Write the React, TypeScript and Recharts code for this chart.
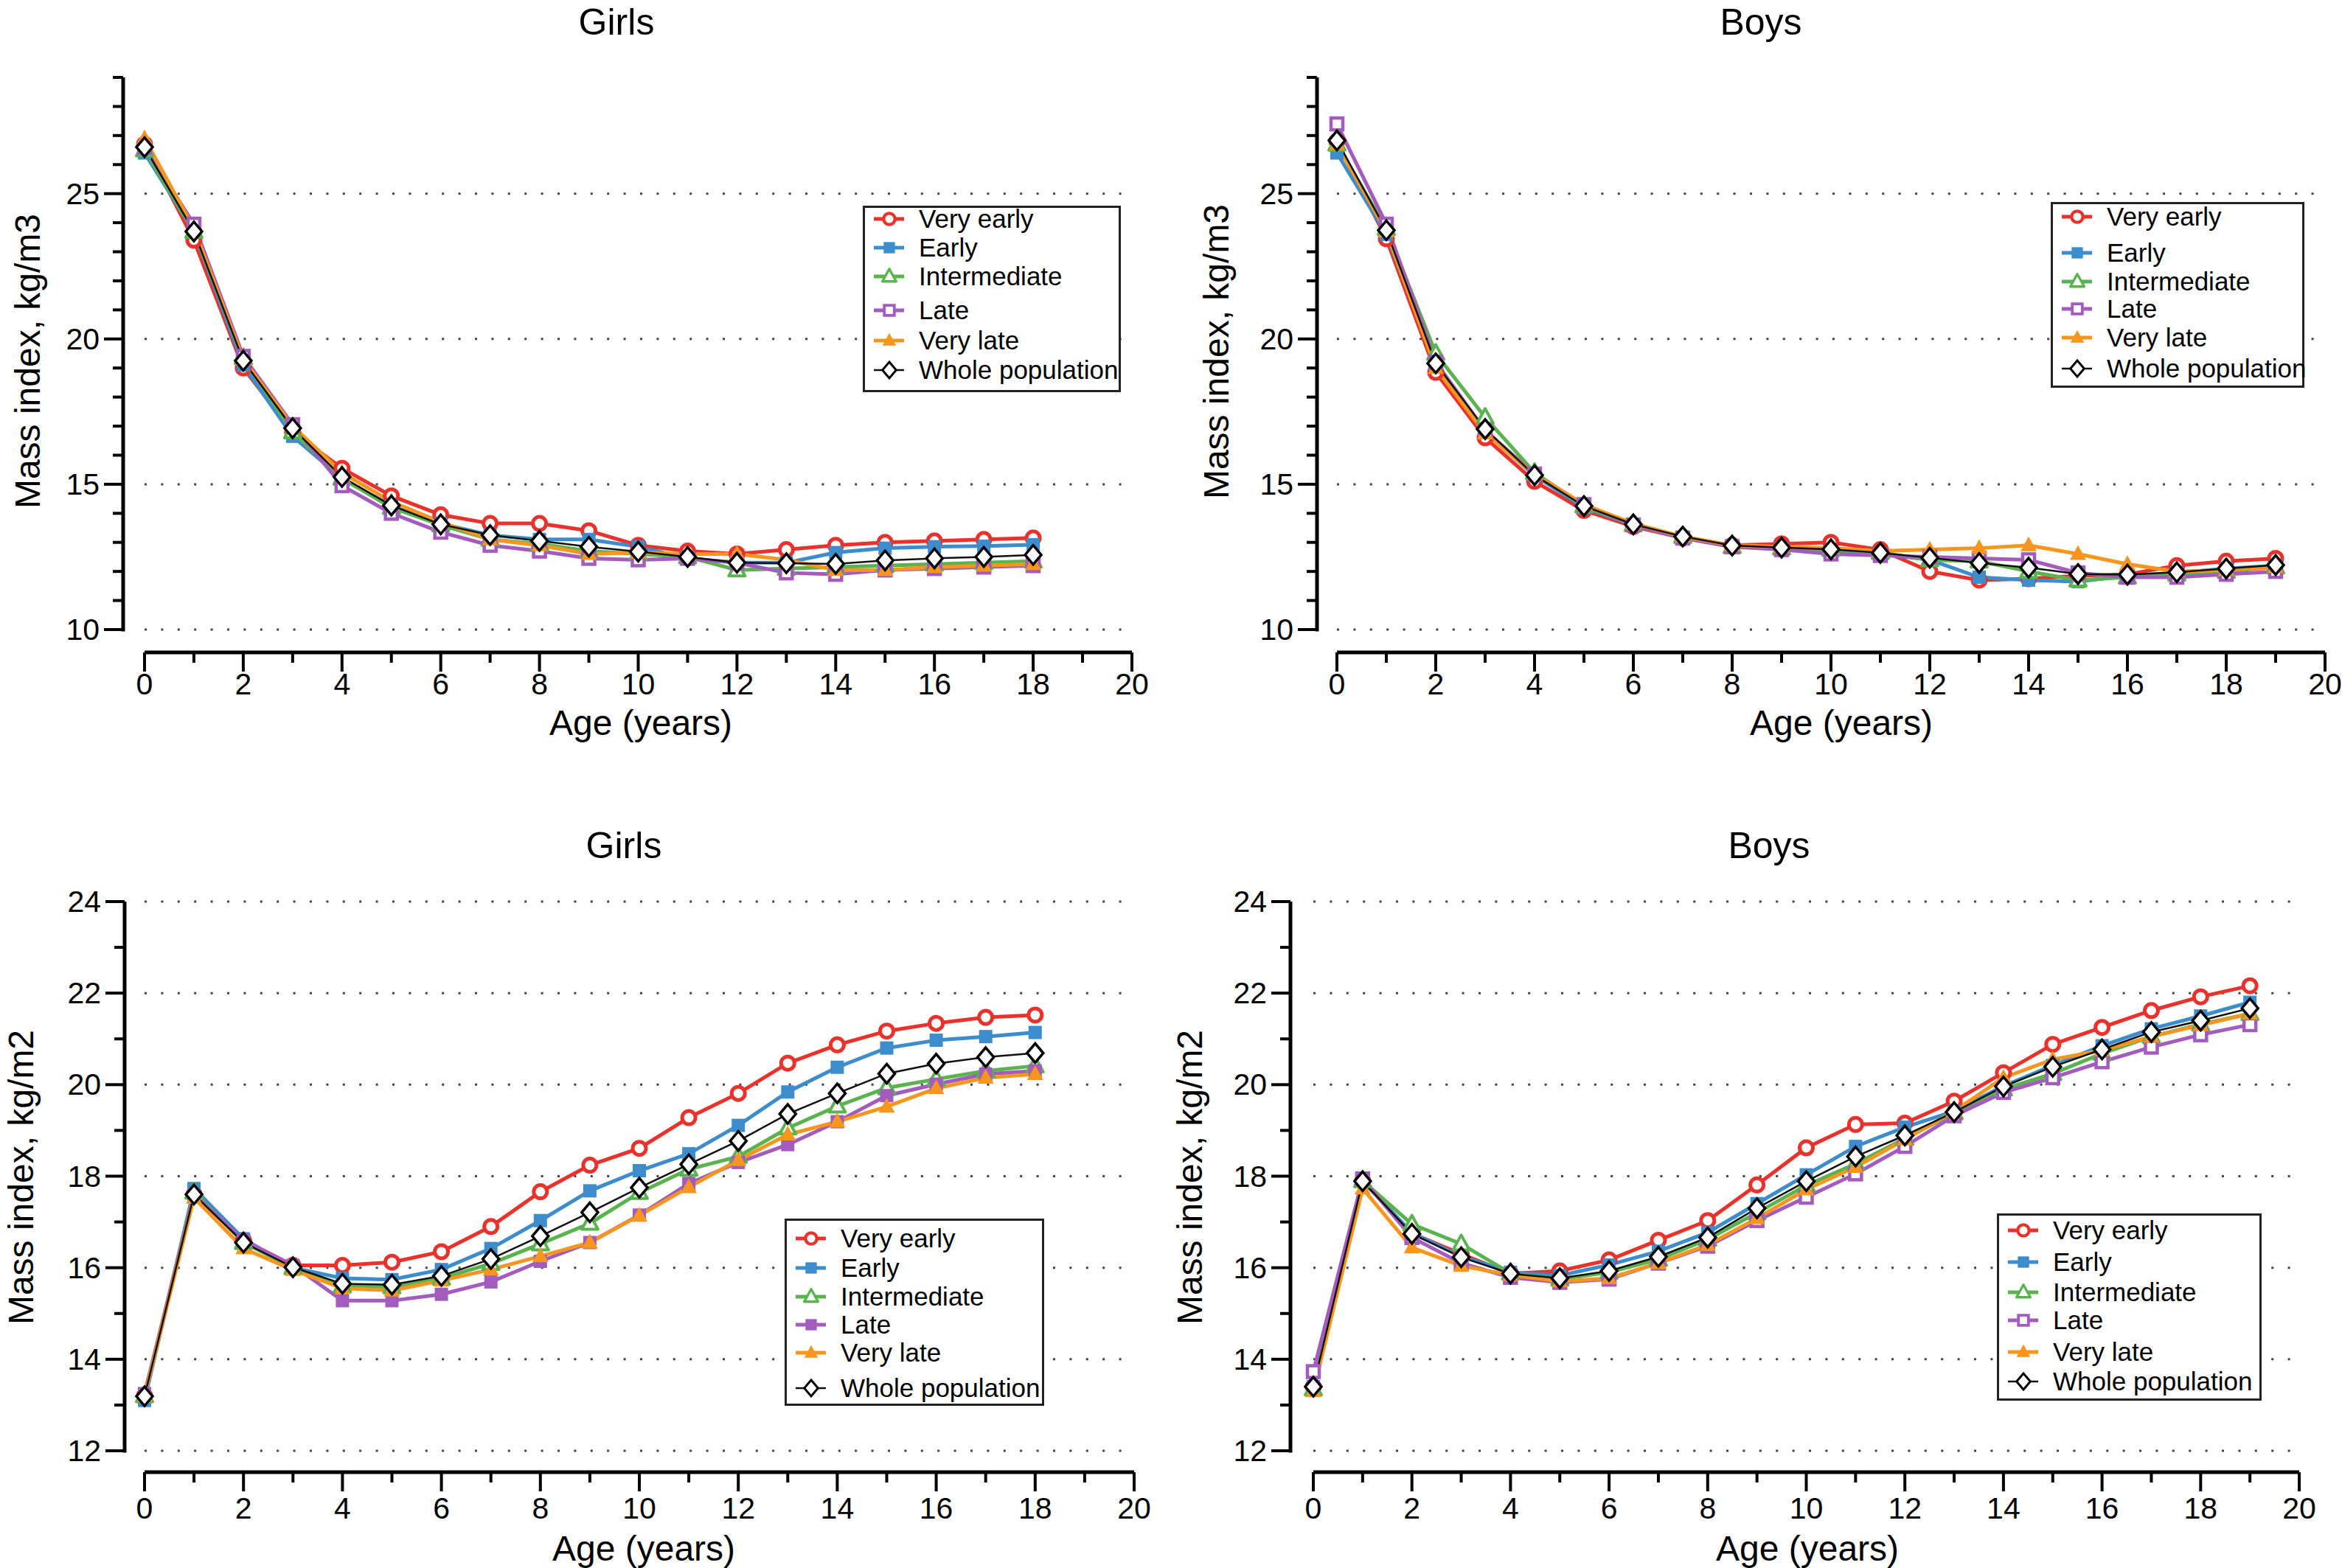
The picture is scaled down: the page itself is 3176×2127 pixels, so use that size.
import React from "react";
import { LineChart, Line, XAxis, YAxis, CartesianGrid, Legend } from "recharts";

const FONT = "'Liberation Sans', Arial, Helvetica, sans-serif";

// ages
const agesGirls = [0, 1, 2, 3, 4, 5, 6, 7, 8, 9, 10, 11, 12, 13, 14, 15, 16, 17, 18];
const agesBoys = [0, 1, 2, 3, 4, 5, 6, 7, 8, 9, 10, 11, 12, 13, 14, 15, 16, 17, 18, 19];

// ticks
const xTicks = [0, 1, 2, 3, 4, 5, 6, 7, 8, 9, 10, 11, 12, 13, 14, 15, 16, 17, 18, 19, 20];
const yTicksM3 = [10, 11, 12, 13, 14, 15, 16, 17, 18, 19, 20, 21, 22, 23, 24, 25, 26, 27, 28, 29];
const yLabelsM3 = [10, 15, 20, 25];
const yTicksM2 = [12, 13, 14, 15, 16, 17, 18, 19, 20, 21, 22, 23, 24];
const yLabelsM2 = [12, 14, 16, 18, 20, 22, 24];

// girls, kg/m3
const girlsM3VeryEarly = [26.7, 23.4, 19.0, 16.8, 15.55, 14.6, 13.95, 13.65, 13.65, 13.4, 12.9, 12.7, 12.6, 12.75, 12.9, 13.0, 13.05, 13.1, 13.15];
const girlsM3Early = [26.4, 23.7, 19.1, 16.65, 15.2, 14.25, 13.65, 13.25, 13.1, 13.1, 12.85, 12.45, 12.3, 12.3, 12.65, 12.8, 12.85, 12.87, 12.92];
const girlsM3Intermediate = [26.5, 23.7, 19.35, 16.8, 15.2, 14.2, 13.6, 13.1, 12.95, 12.7, 12.6, 12.5, 12.05, 12.1, 12.15, 12.2, 12.25, 12.3, 12.35];
const girlsM3Late = [26.6, 23.95, 19.4, 17.05, 14.95, 14.0, 13.35, 12.9, 12.7, 12.45, 12.4, 12.45, 12.3, 11.95, 11.9, 12.05, 12.1, 12.15, 12.2];
const girlsM3VeryLate = [26.9, 23.8, 19.3, 17.0, 15.4, 14.4, 13.7, 13.1, 12.9, 12.6, 12.65, 12.6, 12.6, 12.4, 12.05, 12.05, 12.15, 12.2, 12.25];
const girlsM3Whole = [26.6, 23.7, 19.25, 16.93, 15.25, 14.27, 13.62, 13.25, 13.05, 12.85, 12.68, 12.5, 12.3, 12.28, 12.26, 12.38, 12.45, 12.5, 12.57];

// boys, kg/m3
const boysM3VeryEarly = [26.8, 23.45, 18.85, 16.6, 15.1, 14.1, 13.55, 13.15, 12.9, 12.95, 13.0, 12.75, 12.0, 11.7, 11.75, 11.85, 11.9, 12.2, 12.35, 12.45];
const boysM3Early = [26.4, 23.6, 19.1, 16.8, 15.3, 14.2, 13.6, 13.15, 12.85, 12.8, 12.7, 12.6, 12.4, 11.8, 11.7, 11.65, 11.85, 11.95, 12.1, 12.2];
const boysM3Intermediate = [26.7, 23.8, 19.5, 17.3, 15.4, 14.25, 13.6, 13.2, 12.85, 12.8, 12.75, 12.65, 12.4, 12.35, 12.0, 11.7, 11.8, 11.9, 12.0, 12.15];
const boysM3Late = [27.4, 23.95, 19.2, 16.85, 15.35, 14.3, 13.6, 13.15, 12.85, 12.75, 12.6, 12.55, 12.5, 12.45, 12.4, 11.95, 11.8, 11.8, 11.9, 12.0];
const boysM3VeryLate = [26.7, 23.7, 19.0, 16.75, 15.35, 14.3, 13.65, 13.2, 12.9, 12.85, 12.8, 12.7, 12.75, 12.8, 12.9, 12.6, 12.25, 12.0, 12.05, 12.15];
const boysM3Whole = [26.83, 23.74, 19.16, 16.9, 15.31, 14.25, 13.62, 13.2, 12.89, 12.82, 12.76, 12.64, 12.47, 12.29, 12.13, 11.91, 11.89, 11.97, 12.1, 12.22];

// girls, kg/m2
const girlsM2VeryEarly = [13.2, 17.6, 16.6, 16.05, 16.05, 16.12, 16.35, 16.9, 17.66, 18.24, 18.61, 19.28, 19.81, 20.47, 20.87, 21.17, 21.34, 21.47, 21.52];
const girlsM2Early = [13.1, 17.73, 16.63, 16.0, 15.77, 15.74, 15.96, 16.42, 17.03, 17.68, 18.12, 18.49, 19.11, 19.84, 20.38, 20.8, 20.97, 21.05, 21.14];
const girlsM2Intermediate = [13.2, 17.65, 16.55, 16.0, 15.6, 15.58, 15.77, 16.09, 16.52, 16.97, 17.64, 18.15, 18.43, 19.05, 19.53, 19.93, 20.12, 20.3, 20.41];
const girlsM2Late = [13.25, 17.6, 16.6, 16.05, 15.28, 15.28, 15.42, 15.69, 16.14, 16.55, 17.15, 17.84, 18.3, 18.69, 19.19, 19.76, 20.01, 20.23, 20.3];
const girlsM2VeryLate = [13.2, 17.53, 16.42, 15.95, 15.55, 15.5, 15.72, 15.96, 16.25, 16.55, 17.14, 17.76, 18.35, 18.91, 19.19, 19.52, 19.92, 20.15, 20.23];
const girlsM2Whole = [13.19, 17.6, 16.55, 16.01, 15.65, 15.63, 15.82, 16.19, 16.69, 17.21, 17.75, 18.26, 18.77, 19.36, 19.81, 20.24, 20.46, 20.6, 20.69];

// boys, kg/m2
const boysM2VeryEarly = [13.4, 17.9, 16.75, 16.3, 15.87, 15.93, 16.17, 16.6, 17.03, 17.81, 18.62, 19.13, 19.16, 19.64, 20.26, 20.88, 21.25, 21.62, 21.92, 22.16];
const boysM2Early = [13.4, 17.9, 16.76, 16.25, 15.9, 15.83, 16.06, 16.36, 16.77, 17.4, 18.03, 18.65, 19.07, 19.42, 19.97, 20.42, 20.85, 21.22, 21.5, 21.8];
const boysM2Intermediate = [13.35, 17.9, 16.95, 16.52, 15.88, 15.75, 15.9, 16.18, 16.62, 17.2, 17.8, 18.27, 18.82, 19.38, 19.9, 20.24, 20.68, 21.05, 21.32, 21.55];
const boysM2Late = [13.73, 17.94, 16.66, 16.1, 15.79, 15.68, 15.75, 16.1, 16.47, 17.03, 17.54, 18.05, 18.65, 19.32, 19.83, 20.15, 20.5, 20.82, 21.09, 21.31];
const boysM2VeryLate = [13.3, 17.73, 16.44, 16.04, 15.84, 15.7, 15.77, 16.1, 16.5, 17.08, 17.71, 18.2, 18.8, 19.42, 20.15, 20.55, 20.75, 21.05, 21.3, 21.55];
const boysM2Whole = [13.4, 17.89, 16.74, 16.23, 15.87, 15.77, 15.93, 16.24, 16.66, 17.3, 17.89, 18.43, 18.89, 19.4, 19.96, 20.39, 20.77, 21.15, 21.4, 21.67];

type Shape = "circle" | "square" | "triangle" | "diamond";
type SeriesStyle = { key: string; name: string; color: string; shape: Shape; filled: boolean; width: number };

const seriesStyles: SeriesStyle[] = [
  { key: "veryEarly", name: "Very early", color: "#e8322b", shape: "circle", filled: false, width: 5 },
  { key: "early", name: "Early", color: "#3d8ccb", shape: "square", filled: true, width: 5 },
  { key: "intermediate", name: "Intermediate", color: "#5bb34f", shape: "triangle", filled: false, width: 5 },
  { key: "late", name: "Late", color: "#a35cbd", shape: "square", filled: false, width: 5 },
  { key: "veryLate", name: "Very late", color: "#f6961e", shape: "triangle", filled: true, width: 5 },
  { key: "whole", name: "Whole population", color: "#111111", shape: "diamond", filled: false, width: 2.5 },
];

function Marker({ cx, cy, shape, color, filled, s = 1 }: { cx: number; cy: number; shape: Shape; color: string; filled: boolean; s?: number }) {
  if (cx == null || cy == null) return null;
  if (shape === "circle") {
    return <circle cx={cx} cy={cy} r={9 * s} fill="#fff" stroke={color} strokeWidth={5 * s} />;
  }
  if (shape === "square") {
    return filled ? (
      <rect x={cx - 9 * s} y={cy - 9 * s} width={18 * s} height={18 * s} fill={color} />
    ) : (
      <rect x={cx - 8 * s} y={cy - 8 * s} width={16 * s} height={16 * s} fill="#fff" stroke={color} strokeWidth={4.5 * s} />
    );
  }
  if (shape === "triangle") {
    const pts = `${cx},${cy - 12 * s} ${cx - 11 * s},${cy + 8 * s} ${cx + 11 * s},${cy + 8 * s}`;
    return filled ? (
      <polygon points={pts} fill={color} />
    ) : (
      <polygon points={pts} fill="#fff" stroke={color} strokeWidth={4 * s} strokeLinejoin="round" />
    );
  }
  const pts = `${cx},${cy - 13 * s} ${cx + 11 * s},${cy} ${cx},${cy + 13 * s} ${cx - 11 * s},${cy}`;
  return <polygon points={pts} fill="#fff" stroke="#000" strokeWidth={3.5 * s} />;
}

type Panel = {
  id: string;
  left: number; top: number; width: number; height: number;
  ages: number[];
  series: number[][];
  yDomain: [number, number]; yTicks: number[]; yLabels: number[];
  x0: number; x20: number; axisGap: number; plotTop: number; axisY: number; padBottom: number;
  title: string; titleX: number; titleY: number;
  yTitle: string; yTitleX: number; yTitleY: number;
  xTitleX: number; xTitleY: number; tickDy: number;
  lateFilled: boolean;
  legend: { left: number; top: number; w: number; h: number; rows: number[] };
};

const panels: Panel[] = [
  {
    id: "girlsM3", left: 0, top: 0, width: 1588, height: 1063,
    ages: agesGirls,
    series: [girlsM3VeryEarly, girlsM3Early, girlsM3Intermediate, girlsM3Late, girlsM3VeryLate, girlsM3Whole],
    yDomain: [10, 29], yTicks: yTicksM3, yLabels: yLabelsM3,
    x0: 196, x20: 1535, axisGap: 29, plotTop: 105, axisY: 885, padBottom: 31,
    title: "Girls", titleX: 836, titleY: 30,
    yTitle: "Mass index, kg/m3", yTitleX: 37, yTitleY: 490,
    xTitleX: 869, xTitleY: 980, tickDy: 43,
    lateFilled: false,
    legend: { left: 1170, top: 279, w: 350, h: 253, rows: [18, 57, 96, 142, 183, 223] },
  },
  {
    id: "boysM3", left: 1588, top: 0, width: 1588, height: 1063,
    ages: agesBoys,
    series: [boysM3VeryEarly, boysM3Early, boysM3Intermediate, boysM3Late, boysM3VeryLate, boysM3Whole],
    yDomain: [10, 29], yTicks: yTicksM3, yLabels: yLabelsM3,
    x0: 225, x20: 1565, axisGap: 27, plotTop: 105, axisY: 885, padBottom: 31,
    title: "Boys", titleX: 800, titleY: 30,
    yTitle: "Mass index, kg/m3", yTitleX: 61, yTitleY: 477,
    xTitleX: 909, xTitleY: 980, tickDy: 43,
    lateFilled: false,
    legend: { left: 1193, top: 274, w: 344, h: 252, rows: [20, 69, 108, 145, 184, 226] },
  },
  {
    id: "girlsM2", left: 0, top: 1063, width: 1588, height: 1064,
    ages: agesGirls,
    series: [girlsM2VeryEarly, girlsM2Early, girlsM2Intermediate, girlsM2Late, girlsM2VeryLate, girlsM2Whole],
    yDomain: [12, 24], yTicks: yTicksM2, yLabels: yLabelsM2,
    x0: 196, x20: 1538, axisGap: 27, plotTop: 160, axisY: 934, padBottom: 29,
    title: "Girls", titleX: 846, titleY: 84,
    yTitle: "Mass index, kg/m2", yTitleX: 28, yTitleY: 534,
    xTitleX: 873, xTitleY: 1037, tickDy: 49,
    lateFilled: true,
    legend: { left: 1064, top: 590, w: 352, h: 254, rows: [27, 67, 106, 144, 182, 230] },
  },
  {
    id: "boysM2", left: 1588, top: 1063, width: 1588, height: 1064,
    ages: agesBoys,
    series: [boysM2VeryEarly, boysM2Early, boysM2Intermediate, boysM2Late, boysM2VeryLate, boysM2Whole],
    yDomain: [12, 24], yTicks: yTicksM2, yLabels: yLabelsM2,
    x0: 193, x20: 1530, axisGap: 31, plotTop: 160, axisY: 934, padBottom: 29,
    title: "Boys", titleX: 811, titleY: 84,
    yTitle: "Mass index, kg/m2", yTitleX: 25, yTitleY: 534,
    xTitleX: 863, xTitleY: 1037, tickDy: 49,
    lateFilled: false,
    legend: { left: 1120, top: 583, w: 359, h: 254, rows: [23, 66, 107, 145, 188, 228] },
  },
];

const styleFor = (p: Panel, s: SeriesStyle): SeriesStyle =>
  s.key === "late" ? { ...s, filled: p.lateFilled } : s;

function makeXTick(p: Panel) {
  return (props: any) => {
    const { x, y, payload } = props;
    const v = payload.value;
    const major = v % 2 === 0;
    return (
      <g>
        <line x1={x} x2={x} y1={y} y2={y + (major ? 26 : 14)} stroke="#000" strokeWidth={4} />
        {major && (
          <text x={x} y={y + p.tickDy} textAnchor="middle" dominantBaseline="central" fontSize={41} fontFamily={FONT} fill="#000">
            {v}
          </text>
        )}
      </g>
    );
  };
}

function makeYTick(p: Panel) {
  return (props: any) => {
    const { x, y, payload } = props;
    const v = payload.value;
    const ax = x - p.axisGap;
    const major = p.yLabels.includes(v);
    return (
      <g>
        {v === p.yDomain[0] && <line x1={ax} x2={ax} y1={y + 2.5} y2={p.plotTop} stroke="#000" strokeWidth={5} />}
        <line x1={ax - (major ? 26 : 14)} x2={ax} y1={y} y2={y} stroke="#000" strokeWidth={4} />
        {major && (
          <text x={ax - 32} y={y} textAnchor="end" dominantBaseline="central" fontSize={41} fontFamily={FONT} fill="#000">
            {v}
          </text>
        )}
      </g>
    );
  };
}

function makeLegend(p: Panel) {
  return () => (
    <div
      style={{
        width: p.legend.w, height: p.legend.h, border: "3px solid #222", boxSizing: "border-box",
        background: "#fff", position: "relative", fontFamily: FONT, color: "#000",
      }}
    >
      {seriesStyles.map((base, i) => {
        const s = styleFor(p, base);
        return (
          <div key={s.key} style={{ position: "absolute", left: -3, top: p.legend.rows[i] - 21, height: 36, display: "flex", alignItems: "center" }}>
            <svg width={72} height={36}>
              <line x1={15} x2={56} y1={18} y2={18} stroke={s.color} strokeWidth={s.key === "whole" ? 2.5 : 5} />
              <Marker cx={36} cy={18} shape={s.shape} color={s.color} filled={s.filled} s={0.85} />
            </svg>
            <span style={{ fontSize: 35, marginLeft: 4, whiteSpace: "nowrap", lineHeight: "36px" }}>{s.name}</span>
          </div>
        );
      })}
    </div>
  );
}

function PanelChart({ p }: { p: Panel }) {
  const rows = p.ages.map((age, i) => {
    const row: Record<string, number> = { age };
    seriesStyles.forEach((s, j) => {
      row[s.key] = p.series[j][i];
    });
    return row;
  });
  const xAxisHeight = 120;
  const margin = { top: p.plotTop, right: p.width - p.x20, left: 0, bottom: p.height - p.axisY - xAxisHeight };

  return (
    <div style={{ position: "absolute", left: p.left, top: p.top, width: p.width, height: p.height }}>
      <div
        style={{
          position: "absolute", left: p.titleX, top: p.titleY, transform: "translate(-50%, -50%)",
          fontFamily: FONT, fontSize: 50, color: "#000", whiteSpace: "nowrap", zIndex: 2,
        }}
      >
        {p.title}
      </div>
      <LineChart width={p.width} height={p.height} data={rows} margin={margin}>
        <CartesianGrid
          horizontal
          vertical={false}
          horizontalValues={p.yLabels}
          stroke="#444"
          strokeWidth={3}
          strokeDasharray="3 19.4"
        />
        <XAxis
          dataKey="age"
          type="number"
          domain={[0, 20]}
          ticks={xTicks}
          interval={0}
          height={xAxisHeight}
          axisLine={{ stroke: "#000", strokeWidth: 5 }}
          tickLine={false}
          tickSize={0}
          tickMargin={0}
          tick={makeXTick(p)}
          label={{
            value: "Age (years)",
            content: () => (
              <text x={p.xTitleX} y={p.xTitleY} textAnchor="middle" dominantBaseline="central" fontSize={48} fontFamily={FONT} fill="#000">
                Age (years)
              </text>
            ),
          }}
        />
        <YAxis
          type="number"
          domain={p.yDomain}
          ticks={p.yTicks}
          interval={0}
          width={p.x0}
          padding={{ top: 0, bottom: p.padBottom }}
          axisLine={false}
          tickLine={false}
          tickSize={0}
          tickMargin={0}
          tick={makeYTick(p)}
          label={{
            value: p.yTitle,
            content: () => (
              <text
                x={p.yTitleX}
                y={p.yTitleY}
                transform={`rotate(-90 ${p.yTitleX} ${p.yTitleY})`}
                textAnchor="middle"
                dominantBaseline="central"
                fontSize={48}
                fontFamily={FONT}
                fill="#000"
              >
                {p.yTitle}
              </text>
            ),
          }}
        />
        <Legend
          layout="horizontal"
          verticalAlign="middle"
          align="center"
          content={makeLegend(p)}
          wrapperStyle={{ left: p.legend.left, top: p.legend.top, width: p.legend.w, height: p.legend.h }}
        />
        {seriesStyles.map((base) => {
          const s = styleFor(p, base);
          return (
            <Line
              key={s.key}
              type="linear"
              dataKey={s.key}
              name={s.name}
              stroke={s.color}
              strokeWidth={s.width}
              isAnimationActive={false}
              activeDot={false}
              dot={(d: any) => (
                <Marker key={`${s.key}-${d.index}`} cx={d.cx} cy={d.cy} shape={s.shape} color={s.color} filled={s.filled} />
              )}
            />
          );
        })}
      </LineChart>
    </div>
  );
}

export default function App() {
  return (
    <div style={{ position: "absolute", left: 0, top: 0, width: 3176, height: 2127, background: "#fff" }}>
      {panels.map((p) => (
        <PanelChart key={p.id} p={p} />
      ))}
    </div>
  );
}
